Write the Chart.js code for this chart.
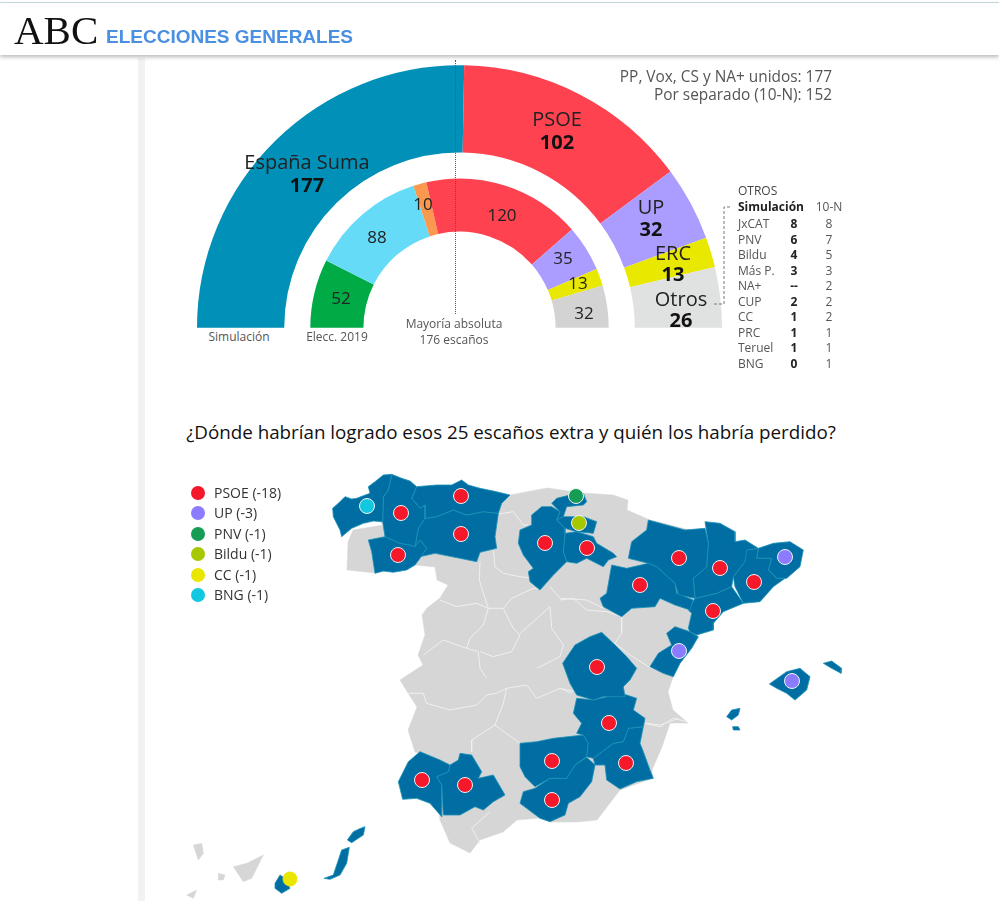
<!DOCTYPE html>
<html lang="es">
<head>
<meta charset="utf-8">
<title>ABC - Elecciones generales</title>
<script src="https://cdn.jsdelivr.net/npm/chart.js@4/dist/chart.umd.min.js"></script>
<style>
  html, body { margin: 0; padding: 0; background: #fff; }
  body { width: 999px; height: 901px; position: relative; overflow: hidden; font-family: "Open Sans", sans-serif; color: #222; }
  #topline { position: absolute; left: 0; top: 2px; width: 999px; height: 1px; background: #c8dbe3; }
  #header { position: absolute; left: 0; top: 3px; width: 999px; height: 52px; background: #fff; box-shadow: 0 2px 4px rgba(0,0,0,.28); z-index: 5; }
  #band { position: absolute; left: 138px; top: 58px; width: 7px; height: 843px; background: #f2f2f2; }
  #majority { position: absolute; left: 455px; top: 60px; height: 254px; border-left: 1px dotted #555; z-index: 3; }
  #hemicycle { position: absolute; left: 197px; top: 65px; }
  #map { position: absolute; left: 170px; top: 460px; }
  #bracket { position: absolute; left: 708px; top: 200px; z-index: 3; }
  .t { position: absolute; white-space: nowrap; line-height: 1; z-index: 6; }
  .dot { position: absolute; width: 14px; height: 14px; border-radius: 50%; }
</style>
</head>
<body>
<div id="topline"></div>
<div id="header"></div>
<div id="band"></div>
<canvas id="hemicycle" width="525" height="263"></canvas>
<div id="majority"></div>
<svg id="bracket" width="32" height="110"><polyline points="22,7 16,7 16,104 5,104" fill="none" stroke="#777" stroke-width="1" stroke-dasharray="3 2"/></svg>
<canvas id="map" width="690" height="441"></canvas>
<script>
// ====== DATA ======
const simParties = ['España Suma', 'PSOE', 'UP', 'ERC', 'Otros'];
const simSeats = [177, 102, 32, 13, 26];
const simColors = ['#0090b8', '#fe4250', '#ab9cff', '#e8e800', '#e0e1e1'];

const seats2019 = [52, 88, 10, 120, 35, 13, 32];
const colors2019 = ['#00aa45', '#66dbf8', '#fb9850', '#fe4250', '#ab9cff', '#e8e800', '#d3d3d3'];

const otrosNames = ['JxCAT', 'PNV', 'Bildu', 'Más P.', 'NA+', 'CUP', 'CC', 'PRC', 'Teruel', 'BNG'];
const otrosSim = ['8', '6', '4', '3', '--', '2', '1', '1', '1', '0'];
const otros10N = ['8', '7', '5', '3', '2', '2', '2', '1', '1', '1'];

const legendNames = ['PSOE (-18)', 'UP (-3)', 'PNV (-1)', 'Bildu (-1)', 'CC (-1)', 'BNG (-1)'];
const legendColors = ['#f5182a', '#8a7bff', '#169c55', '#a6c800', '#e9e600', '#12c8e0'];

// dots on the map, one list per party (map units)
const dotsPSOE = [[401,513],[461,496],[461,534],[398,555],[545,543],[587,548],[640,585],[679,558],[720,568],[754,582],[713,611],[597,667],[609,723],[626,763],[552,761],[552,800],[422,780],[465,785]];
const dotsUP = [[785,557],[679,651],[792,681]];
const dotsPNV = [[576,496]];
const dotsBildu = [[579,523]];
const dotsCC = [[290,879]];
const dotsBNG = [[367,506]];

const north = (...p) => crop(320, 465, p);
const east = (...p) => crop(560, 500, p);
const south = (...p) => crop(380, 680, p);
const canary = (...p) => crop(170, 820, p);

function crop(ox, oy, p) {
    const out = [];
    for (let i = 0; i < p.length; i += 2) out.push({ x: ox + p[i] / 3, y: oy + p[i + 1] / 3 });
    return out;
}

const blueShapes = [
    north(38,130,55,115,75,95,95,102,110,100,130,92,150,85,145,65,165,50,190,30,215,28,205,75,190,95,188,170,160,168,130,175,95,190,65,215,60,195,40,155),
    north(215,28,245,40,270,48,290,65,275,100,300,130,315,120,315,160,295,190,285,245,270,240,240,235,195,215,188,170,190,95,205,75),
    north(145,225,195,215,240,235,270,240,285,245,300,225,320,250,300,280,285,300,260,315,220,322,190,318,165,325,155,260),
    north(290,65,350,60,395,60,425,45,445,60,480,70,520,78,570,90,545,115,535,145,490,140,440,150,400,135,350,155,315,160,315,120,300,130,275,100),
    north(315,160,350,155,400,135,440,150,490,140,535,145,525,215,530,250,480,262,470,290,420,280,345,265,300,275,320,250,300,225,285,245,295,190),
    north(600,195,635,180,635,150,665,125,695,125,720,140,710,165,735,190,735,205,730,260,740,290,700,330,660,375,630,350,625,320,640,310,610,270,595,235),
    north(735,205,770,200,820,215,830,235,880,265,890,275,865,285,850,305,800,280,770,295,740,290,730,260),
    north(710,165,730,155,790,155,830,170,820,205,770,200,735,190),
    north(695,115,710,100,750,90,790,85,800,110,790,120,740,125,730,155,710,165,720,140),
    east(155,195,200,205,265,190,290,200,345,250,350,280,400,300,390,330,345,315,300,295,285,320,215,325,185,350,130,320,120,295,140,280),
    east(265,60,320,75,375,90,435,85,445,130,440,200,400,235,405,295,355,285,345,250,290,200,265,190,205,175,215,125,260,90),
    east(435,65,480,70,525,95,525,125,555,120,595,145,560,150,555,185,520,230,515,260,470,280,405,295,400,235,440,200,445,130),
    east(555,150,595,145,590,175,635,175,625,210,650,235,675,235,640,260,600,305,550,310,525,260,520,230,555,185),
    east(595,145,640,130,690,125,730,150,720,200,680,235,650,235,625,210,635,175,590,175),
    east(405,295,470,280,515,260,550,310,490,335,460,370,460,390,410,405,390,395,385,385,395,340,385,330),
    east(345,380,390,395,415,410,395,445,360,490,340,530,310,520,270,500,295,460,335,435,320,400),
    east(628,552,680,515,720,505,750,530,740,570,705,600,680,580,650,565),
    east(790,490,815,483,845,505,843,520,815,505),
    east(500,650,515,630,540,625,535,645,515,660),
    east(518,680,535,680,540,690,520,690),
    east(8,490,45,435,90,410,125,397,165,435,200,470,230,505,210,540,190,560,195,590,130,590,100,600,50,585,30,550),
    south(590,55,640,60,725,40,770,55,760,90,795,115,790,140,745,145,730,185,700,190,640,235,620,230,625,190,610,165,590,160,605,130,580,100),
    south(640,235,700,190,730,185,745,145,790,140,780,190,790,215,810,270,820,295,770,305,720,327,680,300,675,255,645,255),
    south(420,190,470,185,520,175,610,165,625,190,620,230,585,255,560,295,510,295,465,320,435,290,420,260),
    south(465,325,510,295,560,295,585,255,620,232,645,255,635,305,600,350,565,370,555,405,510,425,480,415,420,370,430,335),
    south(55,305,85,245,120,215,180,240,210,255,205,275,170,290,185,315,185,410,150,370,110,355,68,358),
    south(205,275,210,255,235,240,240,220,275,225,305,275,295,295,340,285,375,345,340,365,310,390,285,380,240,405,190,405,185,315,170,290),
    canary(315,190,330,165,345,175,360,205,335,220,315,205),
    canary(462,175,490,165,515,90,538,82,530,130,510,165,480,178),
    canary(532,60,550,35,572,25,585,20,580,45,545,68)
];

const greyShapes = [
    crop(0, 0, [1041,1710,1125,1719,1245,1695,1305,1701,1311,1740,1344,1755,1320,1794,1281,1824,1266,1845,1275,1905,1254,1965,1269,1995,1200,2040,1224,2079,1251,2121,1224,2190,1245,2256,1260,2259,1275,2340,1320,2445,1320,2460,1350,2529,1410,2559,1440,2520,1509,2496,1551,2460,1620,2454,1650,2466,1731,2466,1791,2460,1860,2370,1959,2334,1956,2310,1986,2241,2010,2169,2064,2169,2019,2130,2004,2076,2019,2031,2070,1935,2085,1890,2100,1830,2220,1710,2130,1605,1950,1560,1881,1530,1884,1500,1839,1485,1749,1479,1641,1464,1530,1485,1410,1500,1110,1530,1149,1575,1059,1590,1044,1626]),
    canary(70,75,95,70,100,100,85,120),
    canary(145,160,165,165,160,180,145,180),
    canary(190,140,230,130,280,105,245,175,220,185),
    canary(50,225,80,210,70,235)
];

// white province lines inside the grey land
const greyLines = [
    north(520,255,525,305,550,325,600,335,640,340),
    north(480,290,478,345,495,400,505,430,490,480,450,520,440,550,475,560,480,610,500,640),
    north(360,405,410,425,470,415,505,430,550,430,575,400,640,370,665,370),
    north(550,430,580,490,600,510,575,560,520,575,480,560),
    north(690,365,720,400,800,405,850,430),
    north(690,425,640,470,600,505),
    north(690,425,695,490,730,540,720,575,650,610),
    north(310,570,370,525,440,550),
    north(520,150,580,140,610,180,625,180),
    east(0,300,40,295,80,330,140,335,185,350,185,400,165,430,210,465,265,500,290,510),
    east(0,565,45,575),
    east(255,670,300,680,340,655,380,665),
    south(85,40,130,40,140,70,210,90,290,75,320,45,350,40,380,25,440,15,470,55,540,25,575,40),
    south(380,25,370,70,345,135,275,180,275,215),
    south(345,135,420,190),
    south(800,130,840,135,895,115),
    south(330,395,275,445,300,490)
];

// ====== TEXT ======
function put(text, x, y, size, opts = {}) {
    const el = document.createElement('div');
    el.className = 't';
    el.textContent = text;
    el.style.fontSize = size + 'px';
    el.style.left = x + 'px';
    el.style.top = y + 'px';
    el.style.color = opts.color || '#222';
    if (opts.weight) el.style.fontWeight = opts.weight;
    if (opts.family) el.style.fontFamily = opts.family;
    const ax = opts.align === 'left' ? '0' : opts.align === 'right' ? '-100%' : '-50%';
    el.style.transform = `translate(${ax}, -50%)`;
    document.body.appendChild(el);
}

put('ABC', 14, 30, 41, { family: '"Liberation Serif", serif', color: '#111', align: 'left' });
put('ELECCIONES GENERALES', 106, 36, 19, { family: '"Liberation Sans", sans-serif', weight: 'bold', color: '#4a90e2', align: 'left' });

put('PP, Vox, CS y NA+ unidos: ' + simSeats[0], 832, 77, 15.4, { color: '#555', align: 'right' });
put('Por separado (10-N): 152', 832, 95, 15.4, { color: '#555', align: 'right' });

const simLabelPos = [[307,162,185], [557,119,142], [651,207,229], [673,253,274], [681,299,320]];
simParties.forEach((name, i) => {
    const [x, y1, y2] = simLabelPos[i];
    put(name, x, y1, 20);
    put(String(simSeats[i]), x, y2, 20, { weight: 'bold', color: '#111' });
});
const innerLabelPos = [[341,297], [377,236], [423,203], [502,214], [563,257], [578,282], [584,312]];
seats2019.forEach((v, i) => put(String(v), innerLabelPos[i][0], innerLabelPos[i][1], 17));

put('Simulación', 239, 337, 12, { color: '#555' });
put('Elecc. 2019', 337, 337, 12, { color: '#555' });
put('Mayoría absoluta', 454, 324, 12, { color: '#555' });
put('176 escaños', 454, 340, 12, { color: '#555' });

put('OTROS', 738, 191, 12, { color: '#444', align: 'left' });
put('Simulación', 738, 207, 12, { weight: 'bold', align: 'left' });
put('10-N', 829, 207, 12, { color: '#555' });
otrosNames.forEach((name, i) => {
    const y = 224 + i * 15.55;
    put(name, 738, y, 12, { color: '#555', align: 'left' });
    put(otrosSim[i], 794, y, 12, { weight: 'bold' });
    put(otros10N[i], 829, y, 12, { color: '#555' });
});

put('¿Dónde habrían logrado esos 25 escaños extra y quién los habría perdido?', 511, 432, 18.8, { color: '#111' });

legendNames.forEach((name, i) => {
    const y = 493 + i * 20.4;
    const d = document.createElement('div');
    d.className = 'dot';
    d.style.left = '191px';
    d.style.top = (y - 7) + 'px';
    d.style.background = legendColors[i];
    document.body.appendChild(d);
    put(name, 214, y, 14, { color: '#333', align: 'left' });
});

// ====== HEMICYCLE ======
new Chart(document.getElementById('hemicycle'), {
    type: 'doughnut',
    data: {
        datasets: [
            { data: simSeats, backgroundColor: simColors, borderWidth: 0, weight: 87 },
            { data: [350], backgroundColor: ['rgba(0,0,0,0)'], borderWidth: 0, weight: 26 },
            { data: seats2019, backgroundColor: colors2019, borderWidth: 0, weight: 53 }
        ]
    },
    options: {
        responsive: false,
        animation: false,
        rotation: -90,
        circumference: 180,
        cutout: '36.6%',
        layout: { padding: 0 },
        plugins: { legend: { display: false }, tooltip: { enabled: false } }
    }
});

// ====== MAP ======
const dotSets = [dotsPSOE, dotsUP, dotsPNV, dotsBildu, dotsCC, dotsBNG];
const datasets = [];
dotSets.forEach((set, i) => {
    datasets.push({
        data: set.map(p => ({ x: p[0], y: p[1] })),
        showLine: false,
        pointRadius: set === dotsCC ? 7 : 7.5,
        pointBackgroundColor: legendColors[i],
        pointBorderColor: set === dotsCC ? legendColors[i] : '#eef3f6',
        pointBorderWidth: 1
    });
});
function shape(points, fillColor, lineColor, width) {
    return {
        data: points.concat(points[0]),
        showLine: true,
        pointRadius: 0,
        tension: 0,
        fill: 'shape',
        backgroundColor: fillColor,
        borderColor: lineColor,
        borderWidth: width
    };
}
blueShapes.forEach(p => datasets.push(shape(p, '#006da3', '#1a93b8', 0.8)));
greyLines.forEach(p => datasets.push({
    data: p, showLine: true, pointRadius: 0, tension: 0, fill: false, borderColor: '#f0f0f0', borderWidth: 1
}));
greyShapes.forEach(p => datasets.push(shape(p, '#d6d6d6', '#d6d6d6', 0.5)));

new Chart(document.getElementById('map'), {
    type: 'scatter',
    data: { datasets },
    options: {
        responsive: false,
        animation: false,
        layout: { padding: 0, autoPadding: false },
        scales: {
            x: { type: 'linear', min: 170, max: 860, display: false },
            y: { type: 'linear', min: 460, max: 901, reverse: true, display: false }
        },
        plugins: { legend: { display: false }, tooltip: { enabled: false } }
    }
});
</script>
</body>
</html>
